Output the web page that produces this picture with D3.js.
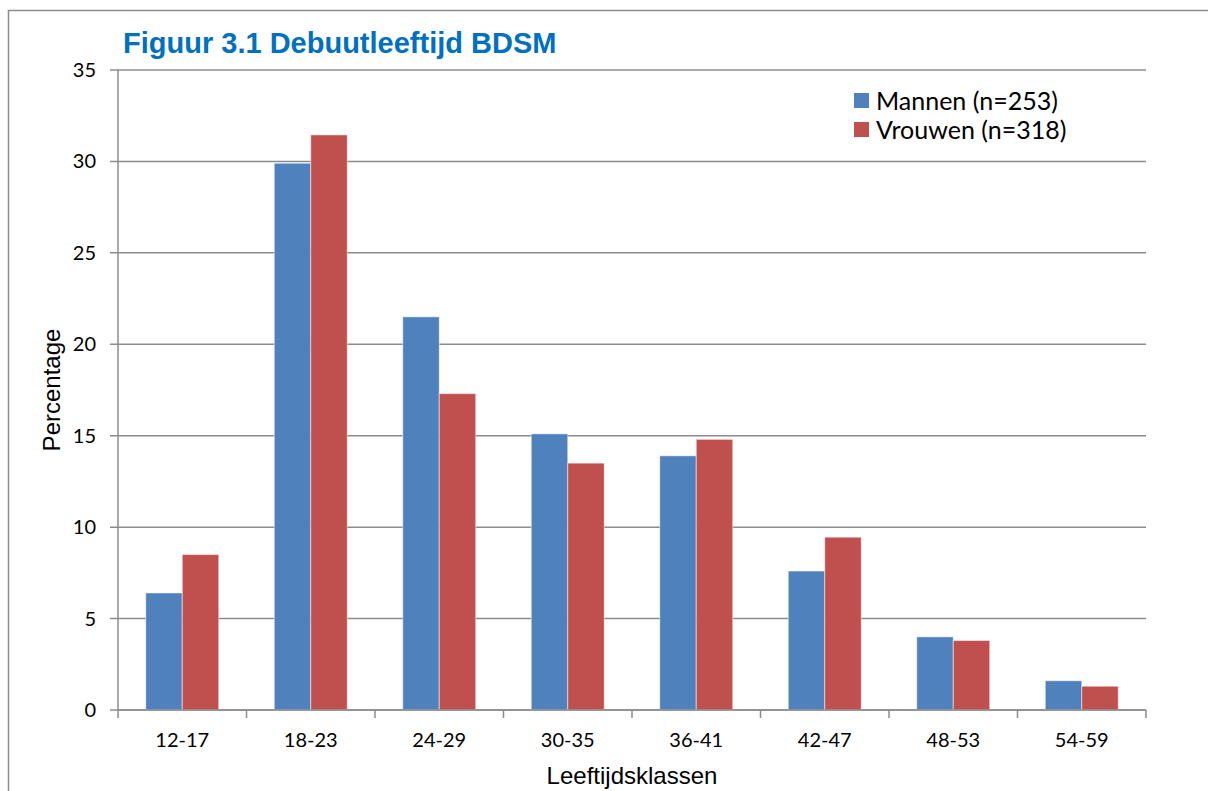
<!DOCTYPE html>
<html>
<head>
    <meta charset="utf-8">
    <title>Figuur 3.1 Debuutleeftijd BDSM</title>
    <script src="https://d3js.org/d3.v7.min.js"></script>
    <style>
        body { margin: 0; background: #fff; overflow: hidden; }
        .tick-label { font-family: Lato, "Open Sans", sans-serif; font-size: 20px; fill: #000; }
        .axis-title { font-family: "Liberation Sans", Arial, sans-serif; font-size: 24px; fill: #000; }
        .legend-label { font-family: Lato, "Open Sans", sans-serif; font-size: 25px; fill: #000; }
        .chart-title { font-family: "Liberation Sans", Arial, sans-serif; font-size: 29px; font-weight: bold; fill: #0070C0; }
    </style>
</head>
<body>
    <div id="chart"></div>
    <script>
        // Data
        const categories = ["12-17", "18-23", "24-29", "30-35", "36-41", "42-47", "48-53", "54-59"];
        const seriesNames = ["Mannen (n=253)", "Vrouwen (n=318)"];
        const mannen = [6.4, 29.9, 21.5, 15.1, 13.9, 7.6, 4.0, 1.6];
        const vrouwen = [8.5, 31.45, 17.3, 13.5, 14.8, 9.45, 3.8, 1.3];
        const yTicks = [0, 5, 10, 15, 20, 25, 30, 35];
        const colors = ["#4F81BD", "#C0504D"];

        const W = 1208, H = 791;
        const plot = {left: 118, right: 1146, top: 70, bottom: 710};

        const svg = d3.select("#chart")
            .append("svg")
            .attr("width", W)
            .attr("height", H)
            .style("display", "block");

        // outer frame (cropped at right/bottom)
        svg.append("path")
            .attr("d", `M8.5,${H}V10.5H${W}`)
            .attr("fill", "none")
            .attr("stroke", "#8c8c8c")
            .attr("stroke-width", 1.5);

        const x0 = d3.scaleBand()
            .domain(categories)
            .range([plot.left, plot.right])
            .paddingInner(0.432)
            .paddingOuter(0.216);

        const x1 = d3.scaleBand()
            .domain(d3.range(seriesNames.length))
            .range([0, x0.bandwidth()]);

        const y = d3.scaleLinear()
            .domain([0, 35])
            .range([plot.bottom, plot.top]);

        // gridlines
        svg.append("g")
            .selectAll("line")
            .data(yTicks)
            .join("line")
            .attr("x1", plot.left - 8)
            .attr("x2", plot.right)
            .attr("y1", d => y(d))
            .attr("y2", d => y(d))
            .attr("stroke", "#8c8c8c")
            .attr("stroke-width", 1.5);

        // y tick labels
        svg.append("g")
            .selectAll("text")
            .data(yTicks)
            .join("text")
            .attr("class", "tick-label")
            .attr("x", plot.left - 22)
            .attr("y", d => y(d))
            .attr("dy", "0.35em")
            .attr("text-anchor", "end")
            .text(d => d);

        // bars
        const series = [mannen, vrouwen];
        const group = svg.append("g")
            .selectAll("g")
            .data(categories)
            .join("g")
            .attr("transform", d => `translate(${x0(d)},0)`);

        group.selectAll("rect")
            .data((d, i) => series.map((s, k) => ({k, v: s[i]})))
            .join("rect")
            .attr("x", d => x1(d.k))
            .attr("width", x1.bandwidth())
            .attr("y", d => y(d.v))
            .attr("height", d => y(0) - y(d.v))
            .attr("fill", d => colors[d.k])
            .attr("stroke", "#fff")
            .attr("stroke-opacity", 0.5)
            .attr("stroke-width", 1);

        // y axis line
        svg.append("line")
            .attr("x1", plot.left).attr("x2", plot.left)
            .attr("y1", plot.top).attr("y2", plot.bottom)
            .attr("stroke", "#8c8c8c").attr("stroke-width", 1.5);

        // x axis line and ticks
        svg.append("line")
            .attr("x1", plot.left).attr("x2", plot.right)
            .attr("y1", plot.bottom).attr("y2", plot.bottom)
            .attr("stroke", "#8c8c8c").attr("stroke-width", 1.5);

        const step = x0.step();
        svg.append("g")
            .selectAll("line")
            .data(d3.range(categories.length + 1))
            .join("line")
            .attr("x1", i => plot.left + i * step)
            .attr("x2", i => plot.left + i * step)
            .attr("y1", plot.bottom)
            .attr("y2", plot.bottom + 8)
            .attr("stroke", "#8c8c8c").attr("stroke-width", 1.5);

        // x tick labels
        svg.append("g")
            .selectAll("text")
            .data(categories)
            .join("text")
            .attr("class", "tick-label")
            .attr("x", d => x0(d) + x0.bandwidth() / 2)
            .attr("y", plot.bottom + 37)
            .attr("text-anchor", "middle")
            .text(d => d);

        // axis titles
        svg.append("text")
            .attr("class", "axis-title")
            .attr("x", (plot.left + plot.right) / 2)
            .attr("y", 784)
            .attr("text-anchor", "middle")
            .text("Leeftijdsklassen");

        svg.append("text")
            .attr("class", "axis-title")
            .attr("transform", `translate(60,${(plot.top + plot.bottom) / 2}) rotate(-90)`)
            .attr("text-anchor", "middle")
            .text("Percentage");

        // title
        svg.append("text")
            .attr("class", "chart-title")
            .attr("x", 123)
            .attr("y", 53)
            .text("Figuur 3.1 Debuutleeftijd BDSM");

        // legend
        const legend = svg.append("g")
            .selectAll("g")
            .data(seriesNames)
            .join("g")
            .attr("transform", (d, i) => `translate(854,${93 + i * 29})`);

        legend.append("rect")
            .attr("width", 15).attr("height", 15)
            .attr("fill", (d, i) => colors[i]);

        legend.append("text")
            .attr("class", "legend-label")
            .attr("x", 22)
            .attr("y", 8)
            .attr("dy", "0.35em")
            .text(d => d);
    </script>
</body>
</html>
